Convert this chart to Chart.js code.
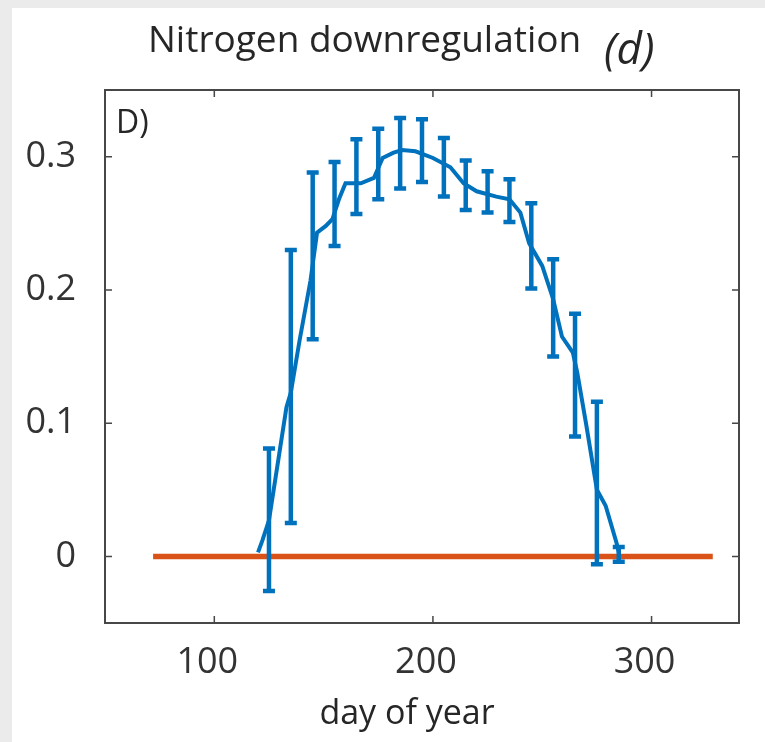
<!DOCTYPE html>
<html>
<head>
<meta charset="utf-8">
<script src="https://cdn.jsdelivr.net/npm/chart.js@4.4.1/dist/chart.umd.min.js"></script>
<style>
body { margin: 0; background: #ebebeb; }
#panel { position: absolute; left: 12px; top: 8px; width: 753px; height: 734px; background: #fff; }
#chart { position: absolute; left: 0; top: 0; }
</style>
</head>
<body>
<div id="panel"></div>
<canvas id="chart" width="765" height="742"></canvas>
<script>
// mean curve (day of year, value)
var lineDays = [120, 122, 125, 133, 135, 139, 144, 147, 151, 154, 157, 160, 167, 173, 177, 182, 186, 192,
                200, 208, 214, 220, 229, 235, 240, 244, 250, 255, 259, 264, 266, 270, 275, 279, 284, 285];
var lineVals = [0.003, 0.012, 0.027, 0.112, 0.123, 0.162, 0.207, 0.243, 0.248, 0.253, 0.268, 0.280, 0.280, 0.284, 0.299, 0.303, 0.305, 0.304,
                0.299, 0.292, 0.280, 0.274, 0.270, 0.268, 0.258, 0.235, 0.218, 0.193, 0.165, 0.153, 0.138, 0.100, 0.050, 0.038, 0.010, 0.003];

// error bars every 10 days
var barDays = [125, 135, 145, 155, 165, 175, 185, 195, 205, 215, 225, 235, 245, 255, 265, 275, 285];
var barHigh = [0.081, 0.230, 0.288, 0.296, 0.313, 0.321, 0.329, 0.328, 0.314, 0.297, 0.289, 0.283, 0.265, 0.223, 0.182, 0.116, 0.007];
var barLow  = [-0.026, 0.025, 0.163, 0.233, 0.257, 0.268, 0.276, 0.281, 0.270, 0.260, 0.258, 0.251, 0.201, 0.150, 0.090, -0.006, -0.004];

// zero reference line
var refDays = [72, 328];
var refVals = [0, 0];

var xTicks = [100, 200, 300];
var yTicks = [0, 0.1, 0.2, 0.3];

var ink = '#262626';
Chart.defaults.font.family = 'Open Sans';

var extras = {
    id: 'extras',
    afterDatasetsDraw: function(chart) {
        var ctx = chart.ctx, x = chart.scales.x, y = chart.scales.y;
        ctx.save();
        ctx.strokeStyle = '#0072BD';
        ctx.lineWidth = 4.5;
        barDays.forEach(function(d, i) {
            var px = x.getPixelForValue(d);
            var pt = y.getPixelForValue(barHigh[i]);
            var pb = y.getPixelForValue(barLow[i]);
            ctx.beginPath();
            ctx.moveTo(px, pt); ctx.lineTo(px, pb);
            ctx.moveTo(px - 6, pt); ctx.lineTo(px + 6, pt);
            ctx.moveTo(px - 6, pb); ctx.lineTo(px + 6, pb);
            ctx.stroke();
        });
        ctx.restore();
    },
    afterDraw: function(chart) {
        var ctx = chart.ctx, a = chart.chartArea, x = chart.scales.x, y = chart.scales.y;
        ctx.save();
        // box + inward ticks
        ctx.strokeStyle = '#474747';
        ctx.lineWidth = 2;
        ctx.strokeRect(a.left, a.top, a.right - a.left, a.bottom - a.top);
        ctx.lineWidth = 1.5;
        ctx.beginPath();
        xTicks.forEach(function(v) {
            var px = x.getPixelForValue(v);
            ctx.moveTo(px, a.bottom); ctx.lineTo(px, a.bottom - 7);
            ctx.moveTo(px, a.top); ctx.lineTo(px, a.top + 7);
        });
        yTicks.forEach(function(v) {
            var py = y.getPixelForValue(v);
            ctx.moveTo(a.left, py); ctx.lineTo(a.left + 7, py);
            ctx.moveTo(a.right, py); ctx.lineTo(a.right - 7, py);
        });
        ctx.stroke();

        // texts
        ctx.fillStyle = ink;
        ctx.textBaseline = 'alphabetic';
        ctx.textAlign = 'left';
        ctx.font = '37px "Open Sans"';
        ctx.fillText('Nitrogen downregulation', 148, 52);
        ctx.font = 'italic 44px "Open Sans"';
        ctx.fillText('(d)', 604, 64);
        ctx.font = '32px "Open Sans"';
        ctx.fillText('D)', 116, 133);
        ctx.textAlign = 'center';
        ctx.font = '34px "Open Sans"';
        ctx.fillText('day of year', 407, 724);
        ctx.restore();
    }
};

var chart = new Chart(document.getElementById('chart'), {
    type: 'line',
    data: {
        datasets: [{
            data: lineDays.map(function(d, i) { return { x: d, y: lineVals[i] }; }),
            borderColor: '#0072BD',
            borderWidth: 4,
            pointRadius: 0,
            tension: 0
        }, {
            data: refDays.map(function(d, i) { return { x: d, y: refVals[i] }; }),
            borderColor: '#D95319',
            borderWidth: 5.5,
            pointRadius: 0,
            borderCapStyle: 'butt'
        }]
    },
    options: {
        responsive: false,
        animation: false,
        layout: { padding: { top: 90, right: 26, left: 0, bottom: 0 } },
        plugins: { legend: { display: false }, tooltip: { enabled: false } },
        scales: {
            x: {
                type: 'linear',
                min: 50,
                max: 340,
                grid: { display: false, drawTicks: false },
                border: { display: false },
                ticks: { font: { size: 36 }, color: '#333', padding: 18, labelOffset: -7 },
                afterBuildTicks: function(s) { s.ticks = xTicks.map(function(v) { return { value: v }; }); },
                afterFit: function(s) { s.height = 119; }
            },
            y: {
                type: 'linear',
                min: -0.05,
                max: 0.35,
                grid: { display: false, drawTicks: false },
                border: { display: false },
                ticks: { font: { size: 36 }, color: '#333', padding: 29, callback: function(v) { return String(v); } },
                afterBuildTicks: function(s) { s.ticks = yTicks.map(function(v) { return { value: v }; }); },
                afterFit: function(s) { s.width = 105; }
            }
        }
    },
    plugins: [extras]
});
</script>
</body>
</html>
